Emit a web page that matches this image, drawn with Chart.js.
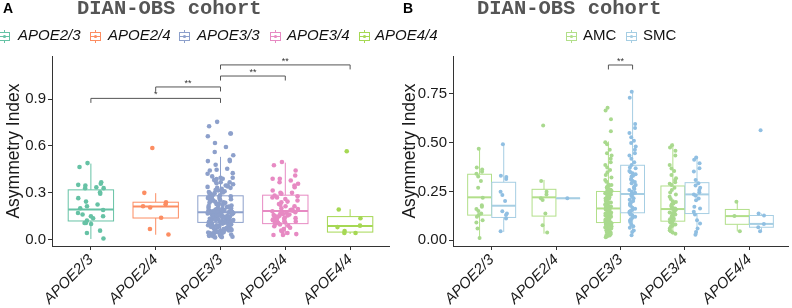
<!DOCTYPE html>
<html>
<head>
<meta charset="utf-8">
<script src="https://cdn.jsdelivr.net/npm/chart.js@4.4.1/dist/chart.umd.min.js"></script>
<style>
  body { margin: 0; background: #fff; }
  #wrap { position: relative; width: 792px; height: 308px; overflow: hidden; font-family: "Liberation Sans", Arial, sans-serif; }
  canvas { position: absolute; top: 0; }
  #chartA { left: 0; }
  #chartB { left: 396px; }
  .tag { position: absolute; top: 1px; font-weight: bold; font-size: 14px; line-height: 14px; color: #000; }
  .ttl { position: absolute; top: -1px; font-family: "Liberation Mono", "DejaVu Sans Mono", monospace; font-weight: bold; font-size: 20.5px; line-height: 20.5px; color: #555; }
  .legItem { position: absolute; top: 26px; font-size: 15px; line-height: 17px; color: #111; white-space: nowrap; }
  .legIcon { position: absolute; top: 29px; }
</style>
</head>
<body>
<div id="wrap">
  <canvas id="chartA" width="396" height="308"></canvas>
  <canvas id="chartB" width="396" height="308"></canvas>
  <div class="tag" style="left:3px">A</div>
  <div class="tag" style="left:403px">B</div>
  <div class="ttl" style="left:77px">DIAN-OBS cohort</div>
  <div class="ttl" style="left:477px">DIAN-OBS cohort</div>
  <div id="legends"></div>
</div>
<script>
// kategorie (genotypy)
const categories = ["APOE2/3", "APOE2/4", "APOE3/3", "APOE3/4", "APOE4/4"];
const colorsA = ["#66C2A5", "#FC8D62", "#8DA0CB", "#E78AC3", "#A6D854"];
const groupsB = ["AMC", "SMC"];
const boxColorsB = ["#B2DF8A", "#A6CEE3"];
const pointColorsB = ["#A9D98E", "#90BFE2"];

const yTicksA = [0.0, 0.3, 0.6, 0.9];
const yTickLabelsA = ["0.0", "0.3", "0.6", "0.9"];
const yTicksB = [0, 0.25, 0.5, 0.75];
const yTickLabelsB = ["0.00", "0.25", "0.50", "0.75"];

// statystyki pudelek: [min, q1, mediana, q3, max]
const boxA = [
  [0.005, 0.120, 0.193, 0.319, 0.487],
  [0.032, 0.139, 0.212, 0.240, 0.298],
  [0.015, 0.111, 0.176, 0.281, 0.530],
  [0.030, 0.103, 0.184, 0.285, 0.493],
  [0.037, 0.049, 0.088, 0.148, 0.195]
];
const boxAMC = [
  [0.005, 0.129, 0.220, 0.338, 0.472],
  [0.034, 0.124, 0.220, 0.261, 0.309],
  [0.015, 0.091, 0.163, 0.250, 0.506],
  [0.030, 0.098, 0.160, 0.278, 0.497],
  [0.046, 0.082, 0.124, 0.158, 0.197]
];
const boxSMC = [
  [0.043, 0.117, 0.177, 0.297, 0.497],
  [0.215, 0.215, 0.215, 0.215, 0.215],
  [0.026, 0.141, 0.237, 0.384, 0.755],
  [0.029, 0.137, 0.235, 0.295, 0.429],
  [0.046, 0.067, 0.084, 0.127, 0.137]
];

// punkty - panel A
const ptsA23 = [0.49, 0.465, 0.368, 0.358, 0.351, 0.347, 0.336, 0.33, 0.33, 0.304, 0.294, 0.266, 0.244, 0.225, 0.214, 0.201, 0.19, 0.171, 0.161, 0.15, 0.15, 0.137, 0.122, 0.107, 0.107, 0.101, 0.058, 0.043, 0.008];
const ptsA24 = [0.587, 0.3, 0.24, 0.227, 0.214, 0.206, 0.141, 0.069, 0.034];
const ptsA33 = [
  0.754, 0.726, 0.679, 0.679, 0.662, 0.619, 0.593, 0.561, 0.54, 0.512, 0.503, 0.503, 0.48, 0.454, 0.448, 0.443,
  0.426, 0.422, 0.405, 0.396, 0.396, 0.39, 0.388, 0.382, 0.376, 0.368, 0.368, 0.361, 0.355, 0.347, 0.347, 0.341,
  0.338, 0.332, 0.332, 0.325, 0.321, 0.318, 0.315, 0.31, 0.305, 0.302, 0.298, 0.295, 0.29, 0.287, 0.284,
  0.278, 0.275, 0.275, 0.27, 0.266, 0.262, 0.262, 0.259, 0.254, 0.251, 0.248, 0.248, 0.243, 0.24, 0.237, 0.236,
  0.231, 0.228, 0.227, 0.222, 0.219, 0.219, 0.215, 0.212, 0.209, 0.207, 0.205, 0.201, 0.2, 0.198, 0.196, 0.193,
  0.192, 0.19, 0.188, 0.187, 0.185, 0.184, 0.183, 0.181, 0.18, 0.179, 0.178, 0.178, 0.177, 0.176, 0.176,
  0.175, 0.174, 0.172, 0.172, 0.169, 0.168, 0.165, 0.165, 0.163, 0.16, 0.159, 0.157, 0.157, 0.154, 0.152, 0.151,
  0.149, 0.146, 0.146, 0.144, 0.142, 0.141, 0.138, 0.137, 0.135, 0.134, 0.131, 0.13, 0.13, 0.127, 0.126, 0.124,
  0.123, 0.121, 0.12, 0.119, 0.118, 0.116, 0.116, 0.115, 0.114, 0.113, 0.113, 0.112, 0.112, 0.111,
  0.109, 0.108, 0.106, 0.103, 0.102, 0.099, 0.098, 0.096, 0.093, 0.092, 0.089, 0.087, 0.086, 0.083, 0.081, 0.079,
  0.077, 0.074, 0.073, 0.07, 0.068, 0.066, 0.063, 0.061, 0.059, 0.057, 0.054, 0.052, 0.05, 0.049, 0.046, 0.044,
  0.043, 0.041, 0.039, 0.037, 0.035, 0.034, 0.031, 0.029, 0.027, 0.025, 0.023, 0.021, 0.019, 0.017, 0.015
];
const ptsA34 = [
  0.497, 0.476, 0.443, 0.411, 0.39, 0.39, 0.379, 0.368, 0.358, 0.347, 0.336, 0.315, 0.3, 0.3, 0.294, 0.283,
  0.278, 0.27, 0.27, 0.261, 0.251, 0.244, 0.24, 0.229, 0.223, 0.214, 0.214, 0.201, 0.197, 0.193, 0.19, 0.186,
  0.182, 0.178, 0.176, 0.172, 0.171, 0.168, 0.165, 0.161, 0.158, 0.155, 0.154, 0.15, 0.148, 0.146, 0.141, 0.138,
  0.135, 0.133, 0.129, 0.125, 0.122, 0.118, 0.116, 0.112, 0.108, 0.107, 0.103, 0.098, 0.09, 0.086, 0.077, 0.069,
  0.058, 0.051, 0.043, 0.036, 0.03, 0.03
];
const ptsA44 = [0.566, 0.193, 0.137, 0.09, 0.081, 0.056, 0.043, 0.043];

// punkty - panel B (AMC / SMC)
const ptsAMC23 = [0.468, 0.372, 0.362, 0.351, 0.341, 0.326, 0.304, 0.269, 0.218, 0.18, 0.172, 0.16, 0.15, 0.137, 0.129, 0.12, 0.103, 0.091, 0.06, 0.012];
const ptsSMC23 = [0.492, 0.331, 0.324, 0.314, 0.249, 0.232, 0.201, 0.149, 0.137, 0.129, 0.112, 0.046];
const ptsAMC24 = [0.587, 0.304, 0.249, 0.235, 0.215, 0.206, 0.137, 0.077, 0.04];
const ptsSMC24 = [0.215];
const ptsAMC33 = [
  0.678, 0.664, 0.619, 0.558, 0.502, 0.492, 0.463, 0.446, 0.434, 0.417, 0.4, 0.386, 0.372, 0.36, 0.348, 0.334,
  0.321, 0.309, 0.3, 0.286, 0.283, 0.279, 0.274, 0.271, 0.266, 0.262, 0.259, 0.256, 0.253, 0.251,
  0.248, 0.246, 0.241, 0.239, 0.234, 0.232, 0.229, 0.224, 0.221, 0.219, 0.214, 0.213, 0.208, 0.204, 0.203, 0.199,
  0.195, 0.194, 0.189, 0.187, 0.184, 0.181, 0.178, 0.176, 0.173, 0.171, 0.168, 0.167, 0.165, 0.164,
  0.162, 0.158, 0.157, 0.153, 0.151, 0.148, 0.146, 0.142, 0.141, 0.137, 0.135, 0.132, 0.129, 0.127, 0.126, 0.121,
  0.119, 0.116, 0.114, 0.111, 0.109, 0.106, 0.105, 0.102, 0.101, 0.098, 0.097, 0.094, 0.093, 0.092,
  0.09, 0.088, 0.084, 0.083, 0.079, 0.077, 0.074, 0.072, 0.071, 0.066, 0.065, 0.061, 0.06, 0.058, 0.054, 0.052,
  0.049, 0.047, 0.044, 0.043, 0.039, 0.038, 0.035, 0.033, 0.031, 0.027, 0.025, 0.022, 0.018, 0.016
];
const ptsSMC33 = [
  0.76, 0.729, 0.595, 0.575, 0.549, 0.527, 0.51, 0.498, 0.48, 0.463, 0.446, 0.434, 0.417, 0.4, 0.386, 0.372,
  0.369, 0.355, 0.348, 0.343, 0.338, 0.331, 0.326, 0.314, 0.31, 0.304, 0.298, 0.292, 0.283, 0.276, 0.269, 0.262,
  0.257, 0.249, 0.244, 0.238, 0.235, 0.229, 0.223, 0.215, 0.208, 0.201, 0.195, 0.189, 0.181, 0.177, 0.167, 0.162,
  0.155, 0.15, 0.146, 0.141, 0.132, 0.128, 0.12, 0.115, 0.108, 0.101, 0.094, 0.08, 0.072, 0.064, 0.05, 0.043, 0.026
];
const ptsAMC34 = [
  0.487, 0.475, 0.458, 0.434, 0.386, 0.368, 0.355, 0.334, 0.318, 0.309, 0.297, 0.29, 0.283, 0.269, 0.257, 0.245,
  0.235, 0.223, 0.211, 0.2, 0.196, 0.189, 0.185, 0.177, 0.172, 0.166, 0.163, 0.161, 0.158, 0.154, 0.151, 0.147,
  0.142, 0.138, 0.132, 0.127, 0.124, 0.12, 0.115, 0.111, 0.108, 0.104, 0.101, 0.098, 0.093, 0.089, 0.086, 0.081,
  0.074, 0.069, 0.06, 0.052, 0.046, 0.04, 0.034
];
const ptsSMC34 = [0.424, 0.412, 0.394, 0.369, 0.352, 0.309, 0.292, 0.28, 0.269, 0.257, 0.246, 0.235, 0.228, 0.214, 0.205, 0.172, 0.163, 0.146, 0.132, 0.103, 0.086, 0.06, 0.043, 0.029];
const ptsAMC44 = [0.197, 0.124, 0.046];
const ptsSMC44 = [0.563, 0.137, 0.127, 0.084, 0.067, 0.046];

const pointsA = [ptsA23, ptsA24, ptsA33, ptsA34, ptsA44];
const pointsAMC = [ptsAMC23, ptsAMC24, ptsAMC33, ptsAMC34, ptsAMC44];
const pointsSMC = [ptsSMC23, ptsSMC24, ptsSMC33, ptsSMC34, ptsSMC44];

// istotnosc: [kategoria od, kategoria do, wysokosc, etykieta]
const sigA = [[1, 3, 0.904, "*"], [2, 3, 0.977, "**"], [3, 4, 1.047, "**"], [3, 5, 1.118, "**"]];
const sigB = [[2.8125, 3.1875, 0.897, "**"]];

// rozrzut punktow w poziomie (staly, bez losowania)
function jitter(i, w) {
  const f = (i * 0.6180339887 + i * i * 0.0731 + 0.37) % 1;
  return (f * 2 - 1) * w;
}

function toPoints(values, xc, w) {
  return values.map((v, i) => ({ x: xc + jitter(i, w), y: v }));
}

function boxPlugin(items) {
  return {
    id: "boxes",
    beforeDatasetsDraw(chart) {
      const { ctx, scales: { x, y } } = chart;
      ctx.save();
      items.forEach(b => {
        const l = x.getPixelForValue(b.x - b.w / 2);
        const r = x.getPixelForValue(b.x + b.w / 2);
        const c = x.getPixelForValue(b.x);
        const [mn, q1, md, q3, mx] = b.s.map(v => y.getPixelForValue(v));
        ctx.strokeStyle = b.color;
        ctx.lineWidth = 1;
        ctx.beginPath();
        ctx.moveTo(c, q3); ctx.lineTo(c, mx);
        ctx.moveTo(c, q1); ctx.lineTo(c, mn);
        ctx.stroke();
        ctx.fillStyle = "#fff";
        ctx.fillRect(l, q3, r - l, q1 - q3);
        ctx.strokeRect(l, q3, r - l, q1 - q3);
        ctx.lineWidth = 2;
        ctx.beginPath();
        ctx.moveTo(l, md); ctx.lineTo(r, md);
        ctx.stroke();
      });
      ctx.restore();
    }
  };
}

function sigPlugin(items) {
  return {
    id: "sig",
    afterDatasetsDraw(chart) {
      const { ctx, scales: { x, y } } = chart;
      ctx.save();
      ctx.strokeStyle = "#555";
      ctx.lineWidth = 1;
      ctx.fillStyle = "#333";
      ctx.font = "9px 'Liberation Sans', Arial";
      ctx.textAlign = "center";
      ctx.textBaseline = "bottom";
      items.forEach(([a, b, h, lab]) => {
        const x1 = x.getPixelForValue(a), x2 = x.getPixelForValue(b), py = y.getPixelForValue(h);
        ctx.beginPath();
        ctx.moveTo(x1, py + 4.5); ctx.lineTo(x1, py); ctx.lineTo(x2, py); ctx.lineTo(x2, py + 4.5);
        ctx.stroke();
        ctx.fillText(lab, (x1 + x2) / 2, py + 1);
      });
      ctx.restore();
    }
  };
}

function makeScales(yMin, yMax, yTicks, yLabels, yWidth) {
  const axisColor = "#333";
  return {
    x: {
      type: "linear", min: 0.4, max: 5.6,
      afterBuildTicks: s => { s.ticks = categories.map((c, i) => ({ value: i + 1 })); },
      afterFit: s => { s.height = 62; },
      ticks: {
        autoSkip: false, minRotation: 45, maxRotation: 45, padding: 1,
        color: "#1a1a1a",
        font: { family: "'Liberation Sans', Arial", size: 15, style: "italic" },
        callback: v => categories[Math.round(v) - 1]
      },
      grid: { drawOnChartArea: false, drawTicks: true, tickLength: 4, color: axisColor },
      border: { display: true, color: axisColor, width: 1 }
    },
    y: {
      type: "linear", min: yMin, max: yMax,
      afterBuildTicks: s => { s.ticks = yTicks.map(v => ({ value: v })); },
      afterFit: s => { s.width = yWidth; },
      ticks: {
        padding: 2, color: "#1a1a1a",
        font: { family: "'Liberation Sans', Arial", size: 15 },
        callback: v => yLabels[yTicks.indexOf(v)]
      },
      grid: { drawOnChartArea: false, drawTicks: true, tickLength: 4, color: axisColor },
      border: { display: true, color: axisColor, width: 1 },
      title: {
        display: true, text: "Asymmetry Index", color: "#1a1a1a",
        font: { family: "'Liberation Sans', Arial", size: 17.5 },
        padding: { top: 4, bottom: 0 }
      }
    }
  };
}

const baseOptions = {
  responsive: false,
  animation: false,
  events: [],
  plugins: { legend: { display: false }, tooltip: { enabled: false } }
};

// Panel A
const boxesA = boxA.map((s, i) => ({ x: i + 1, w: 0.7, s: s, color: colorsA[i] }));
new Chart(document.getElementById("chartA"), {
  type: "scatter",
  data: {
    datasets: pointsA.map((vals, i) => ({
      label: categories[i],
      data: toPoints(vals, i + 1, 0.2),
      backgroundColor: colorsA[i],
      borderWidth: 0,
      pointRadius: 2.3
    }))
  },
  options: Object.assign({}, baseOptions, {
    layout: { padding: { top: 56, right: 7, left: 0, bottom: 0 } },
    scales: makeScales(-0.04, 1.175, yTicksA, yTickLabelsA, 52)
  }),
  plugins: [boxPlugin(boxesA), sigPlugin(sigA)]
});

// Panel B
const boxesB = [];
boxAMC.forEach((s, i) => boxesB.push({ x: i + 1 - 0.1875, w: 0.37, s: s, color: boxColorsB[0] }));
boxSMC.forEach((s, i) => boxesB.push({ x: i + 1 + 0.1875, w: 0.37, s: s, color: boxColorsB[1] }));
const dsB = [];
pointsAMC.forEach((vals, i) => dsB.push({
  label: "AMC " + categories[i], data: toPoints(vals, i + 1 - 0.1875, 0.05),
  backgroundColor: pointColorsB[0], borderWidth: 0, pointRadius: 2
}));
pointsSMC.forEach((vals, i) => dsB.push({
  label: "SMC " + categories[i], data: toPoints(vals, i + 1 + 0.1875, 0.05),
  backgroundColor: pointColorsB[1], borderWidth: 0, pointRadius: 2
}));
new Chart(document.getElementById("chartB"), {
  type: "scatter",
  data: { datasets: dsB },
  options: Object.assign({}, baseOptions, {
    layout: { padding: { top: 56, right: 1, left: 0, bottom: 0 } },
    scales: makeScales(-0.029, 0.943, yTicksB, yTickLabelsB, 57)
  }),
  plugins: [boxPlugin(boxesB), sigPlugin(sigB)]
});

// legendy (HTML)
function legendIcon(color) {
  return '<svg width="11" height="13" viewBox="0 0 11 13">' +
    '<line x1="5.5" y1="0" x2="5.5" y2="13" stroke="' + color + '"/>' +
    '<rect x="0.5" y="2.5" width="10" height="8" fill="#fff" stroke="' + color + '"/>' +
    '<line x1="0.5" y1="6.5" x2="10.5" y2="6.5" stroke="' + color + '"/>' +
    '<circle cx="5.5" cy="6.5" r="1.6" fill="' + color + '"/></svg>';
}
const legIconXA = [-1, 90, 179, 270, 359];
const legTextXA = [18, 108, 197, 287, 375];
const legIconXB = [566, 626];
const legTextXB = [583, 643];
let html = "";
categories.forEach((c, i) => {
  html += '<div class="legIcon" style="left:' + legIconXA[i] + 'px">' + legendIcon(colorsA[i]) + '</div>';
  html += '<div class="legItem" style="left:' + legTextXA[i] + 'px;font-style:italic">' + c + '</div>';
});
groupsB.forEach((g, i) => {
  html += '<div class="legIcon" style="left:' + legIconXB[i] + 'px">' + legendIcon(boxColorsB[i]) + '</div>';
  html += '<div class="legItem" style="left:' + legTextXB[i] + 'px">' + g + '</div>';
});
document.getElementById("legends").innerHTML = html;
</script>
</body>
</html>
